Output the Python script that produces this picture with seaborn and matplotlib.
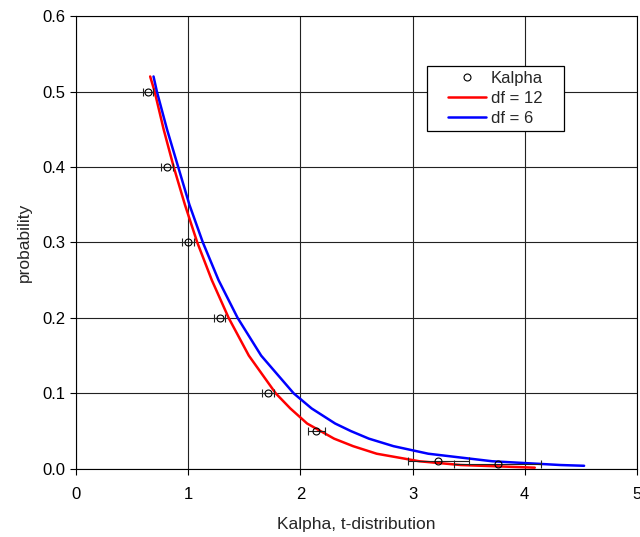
import matplotlib
matplotlib.use("Agg")
import matplotlib.pyplot as plt
from matplotlib.patches import Rectangle
from matplotlib.ticker import FormatStrFormatter
import seaborn as sns
import numpy as np
import pandas as pd

# measured Kalpha points with horizontal error
kalpha_x = [0.64, 0.81, 1.00, 1.28, 1.71, 2.14, 3.23, 3.76]
kalpha_p = [0.5, 0.4, 0.3, 0.2, 0.1, 0.05, 0.01, 0.006]
kalpha_err = [0.045, 0.05, 0.055, 0.05, 0.05, 0.075, 0.27, 0.39]

# t-distribution curves
df12_x = [0.66, 0.70, 0.78, 0.87, 0.97, 1.08, 1.21, 1.36, 1.54, 1.78, 1.91, 2.06,
          2.18, 2.30, 2.47, 2.68, 3.06, 3.43, 4.09]
df12_p = [0.52, 0.5, 0.45, 0.4, 0.35, 0.3, 0.25, 0.2, 0.15, 0.1, 0.08, 0.06,
          0.05, 0.04, 0.03, 0.02, 0.01, 0.005, 0.0015]
df6_x = [0.69, 0.72, 0.81, 0.91, 1.01, 1.13, 1.27, 1.44, 1.65, 1.94, 2.10, 2.31,
         2.45, 2.61, 2.83, 3.14, 3.71, 4.32, 4.53]
df6_p = [0.52, 0.5, 0.45, 0.4, 0.35, 0.3, 0.25, 0.2, 0.15, 0.1, 0.08, 0.06,
         0.05, 0.04, 0.03, 0.02, 0.01, 0.005, 0.004]

sns.set_style("white")
plt.rcParams["font.family"] = ["Liberation Sans", "DejaVu Sans"]

fig = plt.figure(figsize=(6.4, 5.37), dpi=100)
ax = fig.add_axes([0.119, 0.127, 0.876, 0.843])

curves = pd.concat([
    pd.DataFrame({"x": df12_x, "p": df12_p, "series": "df = 12"}),
    pd.DataFrame({"x": df6_x, "p": df6_p, "series": "df = 6"}),
])
sns.lineplot(data=curves, x="x", y="p", hue="series", sort=False,
             palette={"df = 12": "#ff0000", "df = 6": "#0000ff"},
             lw=1.8, ax=ax, legend=False, zorder=3)

ax.errorbar(kalpha_x, kalpha_p, xerr=kalpha_err, fmt="o", mfc="none", mec="black",
            ms=5, mew=0.8, ecolor="#222222", elinewidth=0.8, capsize=3, capthick=0.8,
            zorder=4)

# legend: white box with black frame, content centred inside
ax.add_patch(Rectangle((0.626, 0.746), 0.244, 0.144, transform=ax.transAxes,
                       facecolor="white", edgecolor="black", lw=0.9, zorder=5))
handles = [
    plt.Line2D([], [], ls="none", marker="o", mfc="none", mec="black", ms=5, mew=0.8),
    plt.Line2D([], [], color="#ff0000", lw=1.8),
    plt.Line2D([], [], color="#0000ff", lw=1.8),
]
leg = ax.legend(handles, ["Kalpha", "df = 12", "df = 6"], loc="center",
                bbox_to_anchor=(0.748, 0.818), frameon=False, fontsize=12,
                handlelength=2.3, borderpad=0.1, labelspacing=0.3, handletextpad=0.3)
leg.set_zorder(6)

ax.set_xlim(0, 5)
ax.set_ylim(0, 0.6)
ax.set_xticks(np.arange(0, 6, 1))
ax.set_yticks(np.arange(0, 0.61, 0.1))
ax.yaxis.set_major_formatter(FormatStrFormatter("%.1f"))
ax.grid(True, color="#222222", lw=0.8)
ax.set_axisbelow(True)
for s in ax.spines.values():
    s.set_color("black")
    s.set_linewidth(0.8)
ax.tick_params(axis="both", direction="out", length=4, width=0.8, labelsize=12,
               bottom=True, left=True, colors="black")
ax.tick_params(axis="x", pad=9)
ax.set_xlabel("Kalpha, t-distribution", fontsize=12.5, labelpad=11)
ax.set_ylabel("probability", fontsize=12.5, labelpad=8)

plt.savefig("out.png", dpi=100)
